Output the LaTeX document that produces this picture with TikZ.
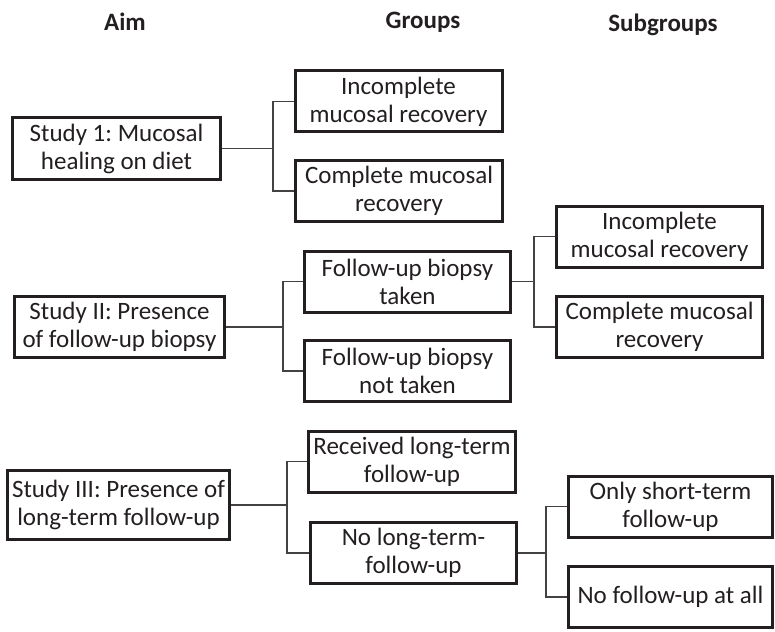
\documentclass[tikz,border=0pt]{standalone}
\usepackage{fontspec}
\setmainfont{Carlito}
\usepackage{xcolor}
\usepackage{tikz}
\definecolor{ink}{HTML}{231F20}
\frenchspacing

\begin{document}
\begin{tikzpicture}[x=1pt, y=-1pt, text=ink,
		box/.style={draw=ink, line width=3pt, fill=white, align=center, inner sep=0pt, minimum width=207pt, minimum height=61pt, font=\fontsize{25}{28}\selectfont},
		conn/.style={draw=ink!85, line width=1.4pt},
		head/.style={font=\fontsize{25}{28}\selectfont\bfseries}]
					\useasboundingbox (0,0) rectangle (775,631);
					% column titles
					\node[head] (haim) at (125,22) {Aim};
					\node[head] (hgroups) at (423,22) {Groups};
					\node[head] (hsub) at (663,25) {Subgroups};
					% study 1
					\node[box, minimum width=208pt] (s1) at (116.5,148.5) {Study 1: Mucosal\\healing on diet};
					\node[box] (s1inc) at (398.5,101.5) {Incomplete\\mucosal recovery};
					\node[box] (s1comp) at (399,191) {Complete mucosal\\recovery};
					% study 2
					\node[box, minimum width=210pt] (s2) at (119.5,327) {Study II: Presence\\of follow-up biopsy};
					\node[box, minimum width=206pt] (s2yes) at (407.5,281.5) {Follow-up biopsy\\taken};
					\node[box, minimum width=206pt] (s2no) at (407.5,371) {Follow-up biopsy\\not taken};
					\node[box, minimum width=206pt] (s2inc) at (659.5,236.5) {Incomplete\\mucosal recovery};
					\node[box, minimum width=206pt] (s2comp) at (659.5,327) {Complete mucosal\\recovery};
					% study 3
					\node[box, minimum width=222pt, minimum height=69pt] (s3) at (118.5,505) {Study III: Presence of\\long-term follow-up};
					\node[box] (s3yes) at (412,461.5) {Received long-term\\follow-up};
					\node[box, minimum width=206pt] (s3no) at (413.5,553) {No long-term-\\follow-up};
					\node[box, minimum width=204pt] (s3short) at (670.5,506.5) {Only short-term\\follow-up};
					\node[box, minimum width=204pt] (s3none) at (670.5,597) {No follow-up at all};
					% branch points
					\coordinate (j1) at (273,148.5);
					\coordinate (j2) at (283,327);
					\coordinate (j3) at (534,281.5);
					\coordinate (j4) at (287,505);
					\coordinate (j5) at (546,553);
					% connectors
					\draw[conn] (s1.east) -- (j1);
					\draw[conn] (s1inc.west) -| (j1) |- (s1comp.west);
					\draw[conn] (s2.east) -- (j2);
					\draw[conn] (s2yes.west) -| (j2) |- (s2no.west);
					\draw[conn] (s2yes.east) -- (j3);
					\draw[conn] (s2inc.west) -| (j3) |- (s2comp.west);
					\draw[conn] (s3.east) -- (j4);
					\draw[conn] (s3yes.west) -| (j4) |- (s3no.west);
					\draw[conn] (s3no.east) -- (j5);
					\draw[conn] (s3short.west) -| (j5) |- (s3none.west);
				\end{tikzpicture}
\end{document}
